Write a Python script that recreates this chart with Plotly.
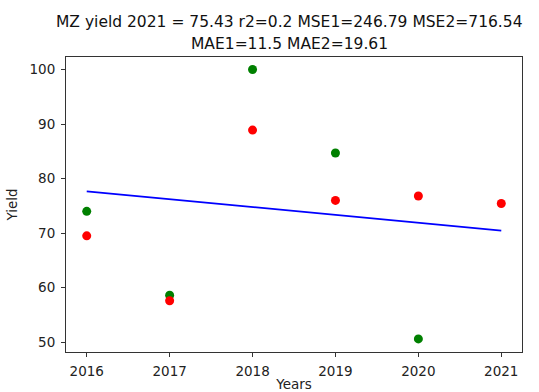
import plotly.graph_objects as go

# Observed yields (green) and predicted yields (red) per year
years_obs = [2016, 2017, 2018, 2019, 2020]
yield_obs = [74.0, 58.6, 100.0, 84.7, 50.6]

years_pred = [2016, 2017, 2018, 2019, 2020, 2021]
yield_pred = [69.5, 57.6, 88.9, 76.0, 76.8, 75.43]

# Fitted trend line end points
trend_years = [2016, 2021]
trend_vals = [77.66, 70.46]

title_lines = ["MZ yield 2021 = 75.43 r2=0.2 MSE1=246.79 MSE2=716.54",
               "MAE1=11.5 MAE2=19.61"]

font_family = "DejaVu Sans, sans-serif"

fig = go.Figure()
fig.add_trace(go.Scatter(x=years_obs, y=yield_obs, mode="markers",
                         marker=dict(color="green", size=9),
                         showlegend=False))
fig.add_trace(go.Scatter(x=years_pred, y=yield_pred, mode="markers",
                         marker=dict(color="red", size=9),
                         showlegend=False))
fig.add_trace(go.Scatter(x=trend_years, y=trend_vals, mode="lines",
                         line=dict(color="#0000ff", width=1.8),
                         showlegend=False))

axis_common = dict(
    showline=True, linecolor="#333", linewidth=1, mirror=True,
    ticks="outside", ticklen=4, tickcolor="#333", tickwidth=1,
    showgrid=False, zeroline=False, automargin=False,
    tickfont=dict(family=font_family, size=13.5, color="#222"),
)

# Two-line title placed as annotations above the plot area
for i, line in enumerate(title_lines):
    fig.add_annotation(text=line, xref="paper", yref="paper",
                       x=0.49, xanchor="center",
                       y=1, yshift=35 - i * 22, yanchor="middle",
                       showarrow=False,
                       font=dict(family=font_family, size=15.5, color="#111"))

fig.update_layout(
    width=539, height=392,
    margin=dict(l=66, r=17, t=57, b=40),
    paper_bgcolor="white", plot_bgcolor="white",
    xaxis=dict(range=[2015.75, 2021.25], tickmode="array",
               tickvals=years_pred, ticktext=[str(y) for y in years_pred],
               ticklabelstandoff=3,
               title=dict(text="Years", standoff=2,
                          font=dict(family=font_family, size=13.5, color="#222")),
               **axis_common),
    yaxis=dict(range=[48.2, 102.3], tickmode="array",
               tickvals=[50, 60, 70, 80, 90, 100],
               ticklabelstandoff=3,
               title=dict(text="Yield", standoff=8,
                          font=dict(family=font_family, size=13.5, color="#222")),
               **axis_common),
)

fig.write_html("out.html")
